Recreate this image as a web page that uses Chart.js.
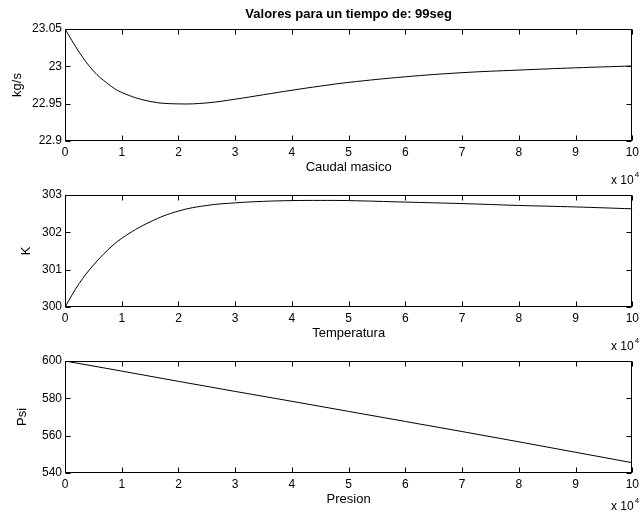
<!DOCTYPE html>
<html>
<head>
<meta charset="utf-8">
<script src="https://cdn.jsdelivr.net/npm/chart.js@4"></script>
<style>
  html, body { margin: 0; padding: 0; background: #fff; }
  #wrap { position: relative; width: 643px; height: 514px; }
  #wrap canvas { position: absolute; left: 0; top: 0; }
</style>
</head>
<body>
<div id="wrap">
  <canvas id="c1" width="643" height="514"></canvas>
  <canvas id="c2" width="643" height="514"></canvas>
  <canvas id="c3" width="643" height="514"></canvas>
</div>
<script>
// ---- data ----
const chartTitle = 'Valores para un tiempo de: 99seg';
const xCurve = [0, 0.25, 0.5, 0.75, 1, 1.5, 2, 2.5, 3, 3.5, 4, 4.5, 5, 6, 7, 8, 9, 10];
const caudalValues = [23.05, 23.019, 22.994, 22.977, 22.965, 22.953, 22.9497, 22.951, 22.956, 22.962, 22.968, 22.9735, 22.9785, 22.986, 22.9915, 22.995, 22.998, 23.0005];
const temperaturaValues = [300, 300.63, 301.12, 301.52, 301.84, 302.28, 302.57, 302.72, 302.79, 302.83, 302.85, 302.855, 302.85, 302.81, 302.77, 302.72, 302.68, 302.63];
const xPresion = [0, 1, 2, 3, 4, 5, 6, 7, 8, 9, 10];
const presionValues = [600, 594.6, 589.1, 583.7, 578.4, 573.0, 567.6, 562.2, 556.7, 551.1, 545.5];

const xTicks = [0, 1, 2, 3, 4, 5, 6, 7, 8, 9, 10];
const xTickLabels = ['0', '1', '2', '3', '4', '5', '6', '7', '8', '9', '10'];
const yTicks1 = [22.9, 22.95, 23, 23.05];
const yTickLabels1 = ['22.9', '22.95', '23', '23.05'];
const yTicks2 = [300, 301, 302, 303];
const yTickLabels2 = ['300', '301', '302', '303'];
const yTicks3 = [540, 560, 580, 600];
const yTickLabels3 = ['540', '560', '580', '600'];
const xExponentText = 'x 10';
const xExponent = '4';

// ---- styling ----
const FONT = '"Liberation Sans", Arial, Helvetica, sans-serif';

const matlabBox = {
  id: 'matlabBox',
  afterDatasetsDraw(chart, args, opts) {
    const ctx = chart.ctx;
    const a = chart.chartArea;
    const xs = chart.scales.x, ys = chart.scales.y;
    const L = Math.round(a.left) + 0.5, R = Math.round(a.right) - 0.5;
    const T = Math.round(a.top) + 0.5, B = Math.round(a.bottom) - 0.5;
    const tl = 5;
    ctx.save();
    ctx.strokeStyle = '#000';
    ctx.lineWidth = 1;
    ctx.beginPath();
    xs.ticks.forEach(t => {
      const px = Math.round(xs.getPixelForValue(t.value)) + 0.5;
      ctx.moveTo(px, B); ctx.lineTo(px, B - tl);
      ctx.moveTo(px, T); ctx.lineTo(px, T + tl);
    });
    ys.ticks.forEach(t => {
      const py = Math.round(ys.getPixelForValue(t.value)) + 0.5;
      ctx.moveTo(L, py); ctx.lineTo(L + tl, py);
      ctx.moveTo(R, py); ctx.lineTo(R - tl, py);
    });
    ctx.stroke();
    ctx.strokeRect(L, T, R - L, B - T);
    // exponent label
    ctx.fillStyle = '#000';
    ctx.textBaseline = 'middle';
    ctx.textAlign = 'left';
    ctx.font = '12px ' + FONT;
    const ey = a.bottom + opts.expOffset;
    ctx.fillText(xExponentText, 611, ey);
    const w = ctx.measureText(xExponentText).width;
    ctx.font = '8px ' + FONT;
    ctx.fillText(xExponent, 611 + w + 1, ey - 6);
    ctx.restore();
  }
};

function makeChart(id, xData, yData, yTicks, yLabels, yMin, yMax, yTitle, xTitle, top, yTitleCenter, expOffset, withTitle, tension) {
  const padLeft = yTitleCenter - 7.8;
  const xAxisH = 26 + 7.8;
  const areaBottom = top + 112;
  const cfg = {
    type: 'line',
    data: {
      datasets: [{
        data: xData.map((x, i) => ({ x: x, y: yData[i] })),
        borderColor: '#000',
        borderWidth: 1,
        pointRadius: 0,
        tension: tension,
        fill: false
      }]
    },
    options: {
      responsive: false,
      animation: false,
      events: [],
      layout: {
        padding: { top: withTitle ? 0 : top, bottom: 514 - areaBottom - xAxisH, left: padLeft, right: 7 }
      },
      plugins: {
        legend: { display: false },
        tooltip: { enabled: false },
        title: {
          display: withTitle,
          text: chartTitle,
          fullSize: false,
          color: '#000',
          font: { family: FONT, size: 13, weight: 'bold', lineHeight: 1.2 },
          padding: { top: 6.7, bottom: 6.7 }
        },
        matlabBox: { expOffset: expOffset }
      },
      scales: {
        x: {
          type: 'linear',
          min: 0, max: 10,
          grid: { display: false, drawTicks: false },
          border: { display: false },
          afterBuildTicks: s => { s.ticks = xTicks.map(v => ({ value: v })); },
          afterFit: s => { s.height = xAxisH; },
          ticks: {
            autoSkip: false, maxRotation: 0, padding: 4, color: '#000',
            font: { family: FONT, size: 12 },
            callback: v => { const i = xTicks.indexOf(v); return i >= 0 ? xTickLabels[i] : ''; }
          },
          title: {
            display: true, text: xTitle, color: '#000',
            font: { family: FONT, size: 13, lineHeight: 1.2 },
            padding: { top: 0, bottom: 0 }
          }
        },
        y: {
          type: 'linear',
          min: yMin, max: yMax,
          grid: { display: false, drawTicks: false },
          border: { display: false },
          afterBuildTicks: s => { s.ticks = yTicks.map(v => ({ value: v })); },
          afterFit: s => { s.width = 65 - padLeft; },
          ticks: {
            autoSkip: false, padding: 3, color: '#000',
            font: { family: FONT, size: 12 },
            callback: v => { const i = yTicks.indexOf(v); return i >= 0 ? yLabels[i] : ''; }
          },
          title: {
            display: true, text: yTitle, color: '#000',
            font: { family: FONT, size: 13, lineHeight: 1.2 },
            padding: { top: 0, bottom: 0 }
          }
        }
      }
    },
    plugins: [matlabBox]
  };
  return new Chart(document.getElementById(id), cfg);
}

makeChart('c1', xCurve, caudalValues, yTicks1, yTickLabels1, 22.9, 23.05, 'kg/s', 'Caudal masico', 29, 17, 40, true, 0.4);
makeChart('c2', xCurve, temperaturaValues, yTicks2, yTickLabels2, 300, 303, 'K', 'Temperatura', 195, 26, 40, false, 0.4);
makeChart('c3', xPresion, presionValues, yTicks3, yTickLabels3, 540, 600, 'Psi', 'Presion', 361, 22, 34, false, 0);
</script>
</body>
</html>
